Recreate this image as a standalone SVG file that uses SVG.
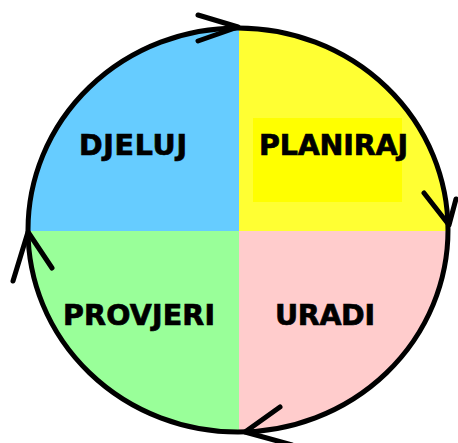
<svg xmlns="http://www.w3.org/2000/svg" width="458" height="443" viewBox="0 0 458 443">
<style>
.lbl{font-family:"DejaVu Sans",Verdana,sans-serif;font-weight:bold;font-size:28.5px;fill:#000;stroke:#000;stroke-width:0.7}
.ln{fill:none;stroke:#000;stroke-width:5;stroke-linecap:round;stroke-linejoin:round}
</style>
<defs>
<clipPath id="c"><ellipse cx="238" cy="230" rx="210" ry="202"/></clipPath>
</defs>
<rect width="458" height="443" fill="#fff"/>
<g clip-path="url(#c)">
<g id="djeluj"><rect x="20" y="20" width="219" height="211" fill="#66CCFF"/></g>
<g id="planiraj-bg"><rect x="239" y="20" width="215" height="211" fill="#FFFF33"/></g>
<g id="provjeri-bg"><rect x="20" y="231" width="219" height="210" fill="#99FF99"/></g>
<g id="uradi-bg"><rect x="239" y="231" width="215" height="210" fill="#FFCCCC"/></g>
</g>
<g id="planiraj"><rect x="253" y="118" width="149" height="84" fill="#FFFF00"/><text class="lbl" x="259" y="155" textLength="149">PLANIRAJ</text></g>
<g id="djeluj-label"><text class="lbl" x="79" y="155" textLength="108">DJELUJ</text></g>
<g id="provjeri"><text class="lbl" x="63" y="325" textLength="152">PROVJERI</text></g>
<g id="uradi"><text class="lbl" x="275" y="325" textLength="100">URADI</text></g>
<g id="connectors">
<ellipse class="ln" cx="238" cy="230" rx="210" ry="202"/>
<path class="ln" d="M198 15 L238 27 L198 41"/>
<path class="ln" d="M424 193 L449 225 L456 199"/>
<path class="ln" d="M13 281 L28 232 L52 268"/>
<path class="ln" d="M280 407 L245 432 L292 445"/>
</g>
</svg>
